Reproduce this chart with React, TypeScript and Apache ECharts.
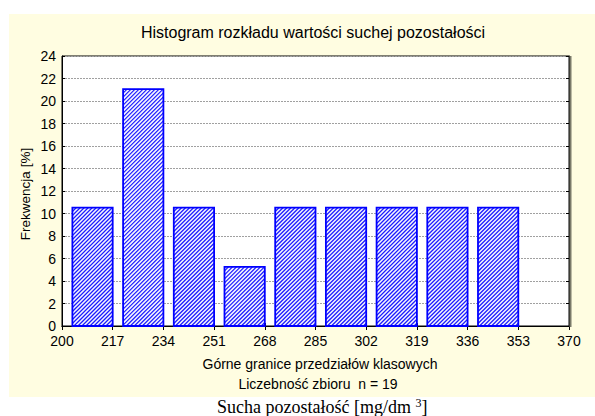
import React, { useEffect, useRef } from "react";
import * as echarts from "echarts";

const binEdges = [200, 217, 234, 251, 268, 285, 302, 319, 336, 353, 370];
const frequencies = [10.53, 21.05, 10.53, 5.26, 10.53, 10.53, 10.53, 10.53, 10.53, 0];
const yTicks = [0, 2, 4, 6, 8, 10, 12, 14, 16, 18, 20, 22, 24];
const titleText = "Histogram rozkładu wartości suchej pozostałości";
const yTitle = "Frekwencja [%]";
const xTitle1 = "Górne granice przedziałów klasowych";
const xTitle2 = "Liczebność zbioru  n = 19";
const captionMain = "Sucha pozostałość [mg/dm ";
const captionSup = "3";
const captionEnd = "]";

const SANS = 'Arial, "Liberation Sans", sans-serif';
const SERIF = '"Times New Roman", "Liberation Serif", serif';

export default function App() {
  const ref = useRef<HTMLDivElement>(null);
  useEffect(() => {
    if (!ref.current) return;
    const chart = echarts.init(ref.current, undefined, { renderer: "svg" });
    const barData = frequencies
      .map((v, i) => [binEdges[i], binEdges[i + 1], v])
      .filter((d) => d[2] > 0);

    const renderItem = (params: any, api: any) => {
      const lo = api.value(0);
      const hi = api.value(1);
      const v = api.value(2);
      const pTop = api.coord([lo + (hi - lo) * 0.205, v]);
      const pBot = api.coord([hi, 0]);
      const L = pTop[0];
      const T = pTop[1];
      const R = pBot[0];
      const B = pBot[1];
      const children: any[] = [
        {
          type: "rect",
          shape: { x: L, y: T, width: R - L, height: B - T },
          style: { fill: "#f4f4ff", stroke: "none" },
        },
      ];
      const step = 4;
      for (let c = L + T; c <= R + B; c += step) {
        const x1 = Math.max(L, c - B);
        const x2 = Math.min(R, c - T);
        if (x2 - x1 > 0.2) {
          children.push({
            type: "line",
            shape: { x1, y1: c - x1, x2, y2: c - x2 },
            style: { stroke: "#1a1aff", lineWidth: 1.2 },
          });
        }
      }
      children.push({
        type: "rect",
        shape: { x: L, y: T, width: R - L, height: B - T },
        style: { fill: "none", stroke: "#0000ff", lineWidth: 1.8 },
      });
      return { type: "group", children };
    };

    const tickLabelStyle = { fontFamily: SANS, fontSize: 14, color: "#000" };

    chart.setOption({
      animation: false,
      graphic: [
        {
          type: "rect",
          z: -10,
          silent: true,
          shape: { x: 9, y: 14, width: 586, height: 383 },
          style: { fill: "#FFFDE1" },
        },
        {
          type: "text",
          x: 313,
          y: 32,
          style: {
            text: titleText,
            fontFamily: SANS,
            fontSize: 16,
            fill: "#000",
            align: "center",
            verticalAlign: "middle",
          },
        },
        {
          type: "text",
          x: 25,
          y: 194,
          rotation: Math.PI / 2,
          style: {
            text: yTitle,
            fontFamily: SANS,
            fontSize: 13.5,
            fill: "#000",
            align: "center",
            verticalAlign: "middle",
          },
        },
        {
          type: "text",
          x: 320,
          y: 364,
          style: {
            text: xTitle1,
            fontFamily: SANS,
            fontSize: 14,
            fill: "#000",
            align: "center",
            verticalAlign: "middle",
          },
        },
        {
          type: "text",
          x: 318,
          y: 384,
          style: {
            text: xTitle2,
            fontFamily: SANS,
            fontSize: 14,
            fill: "#000",
            align: "center",
            verticalAlign: "middle",
          },
        },
        {
          type: "text",
          x: 217,
          y: 407,
          style: {
            text: `{a|${captionMain}}{s|${captionSup}}{a|${captionEnd}}`,
            align: "left",
            verticalAlign: "middle",
            rich: {
              a: { fontFamily: SERIF, fontSize: 18, fill: "#000", lineHeight: 20 },
              s: { fontFamily: SERIF, fontSize: 12, fill: "#000", verticalAlign: "top", lineHeight: 20 },
            },
          },
        },
        {
          type: "line",
          shape: { x1: 570.5, y1: 56, x2: 570.5, y2: 327 },
          style: { stroke: "#7a7a6a", lineWidth: 2 },
          z: 10,
        },
      ],
      grid: {
        left: 62,
        top: 56,
        width: 507,
        height: 270,
        show: true,
        backgroundColor: "#ffffff",
        borderColor: "#000",
        borderWidth: 1,
      },
      xAxis: [
        {
          type: "value",
          min: binEdges[0],
          max: binEdges[binEdges.length - 1],
          position: "bottom",
          axisLine: { show: true, lineStyle: { color: "#000", width: 1 } },
          axisTick: { show: true, inside: true, length: 3, customValues: binEdges, lineStyle: { color: "#000" } },
          axisLabel: { ...tickLabelStyle, margin: 8, customValues: binEdges },
          splitLine: { show: false },
        },
        {
          type: "value",
          min: binEdges[0],
          max: binEdges[binEdges.length - 1],
          position: "top",
          axisLine: { show: true, lineStyle: { color: "#000", width: 1 } },
          axisTick: { show: true, inside: true, length: 4, customValues: binEdges, lineStyle: { color: "#000" } },
          axisLabel: { show: false },
          splitLine: { show: false },
        },
      ],
      yAxis: [
        {
          type: "value",
          min: yTicks[0],
          max: yTicks[yTicks.length - 1],
          interval: 2,
          position: "left",
          axisLine: { show: true, lineStyle: { color: "#000", width: 1 } },
          axisTick: { show: true, inside: true, length: 3, lineStyle: { color: "#000" } },
          axisLabel: { ...tickLabelStyle, margin: 6 },
          splitLine: { show: true, lineStyle: { color: "#a0a0a0", type: [2, 1], width: 1 } },
        },
        {
          type: "value",
          min: yTicks[0],
          max: yTicks[yTicks.length - 1],
          interval: 2,
          position: "right",
          axisLine: { show: true, lineStyle: { color: "#000", width: 1 } },
          axisTick: { show: true, inside: true, length: 3, lineStyle: { color: "#000" } },
          axisLabel: { show: false },
          splitLine: { show: false },
        },
      ],
      series: [
        {
          type: "custom",
          xAxisIndex: 0,
          yAxisIndex: 0,
          renderItem,
          encode: { x: [0, 1], y: 2 },
          data: barData,
          z: 5,
        },
      ],
    });
    return () => chart.dispose();
  }, []);
  return (
    <div
      ref={ref}
      style={{ position: "fixed", left: 0, top: 0, width: 595, height: 416, background: "#ffffff" }}
    />
  );
}
